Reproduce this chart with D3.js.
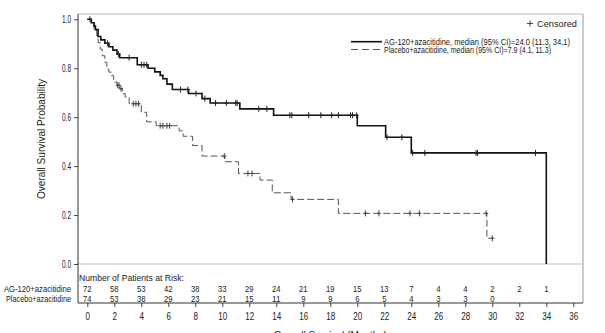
<!DOCTYPE html>
<html>
<head>
<meta charset="utf-8">
<script src="https://cdn.jsdelivr.net/npm/d3@7"></script>
<style>
  body { margin: 0; background: #fff; }
  svg text { font-family: "Liberation Sans", Arial, sans-serif; fill: #222; }
</style>
</head>
<body>
<div id="chart"></div>
<script>
// Kaplan-Meier steps: [month, survival after the drop]
const agSteps = [[0, 1.0], [0.3, 0.986], [0.5, 0.972], [0.6, 0.958], [0.8, 0.93], [1.0, 0.916],
  [1.3, 0.902], [1.6, 0.888], [1.9, 0.874], [2.2, 0.858], [2.4, 0.843], [3.7, 0.814], [4.5, 0.800],
  [5.0, 0.785], [5.4, 0.771], [5.6, 0.757], [5.9, 0.735], [6.3, 0.713], [7.5, 0.697], [8.5, 0.676],
  [9.1, 0.658], [11.3, 0.634], [13.8, 0.608], [20.0, 0.565], [22.1, 0.518], [24.0, 0.454], [34.0, 0]];
const agCensor = [0.2, 1.5, 2.3, 3.1, 4.0, 4.2, 4.4, 6.9, 7.45, 8.05, 8.7, 9.5, 10.3, 11.0, 11.1,
  12.7, 13.3, 15.0, 15.15, 16.4, 17.3, 18.1, 18.6, 19.5, 19.65, 19.95, 22.2, 23.3, 24.1, 25.0,
  28.8, 28.9, 33.2];

const pbSteps = [[0, 1.0], [0.3, 0.986], [0.5, 0.959], [0.7, 0.932], [0.8, 0.905], [0.95, 0.878],
  [1.1, 0.851], [1.3, 0.824], [1.45, 0.797], [1.6, 0.784], [1.8, 0.77], [1.95, 0.743], [2.2, 0.73],
  [2.4, 0.716], [2.6, 0.696], [2.8, 0.682], [3.1, 0.655], [4.0, 0.62], [4.4, 0.581], [5.1, 0.565],
  [6.8, 0.544], [7.1, 0.522], [7.8, 0.484], [8.5, 0.441], [10.2, 0.418], [11.2, 0.37], [12.8, 0.343],
  [13.7, 0.291], [15.1, 0.264], [18.6, 0.207], [29.6, 0.105]];
const pbEnd = 30.0;
const pbCensor = [2.25, 2.35, 2.5, 3.4, 3.6, 3.8, 5.4, 5.6, 5.9, 6.1, 10.15, 11.9, 12.2, 15.2,
  20.6, 21.6, 23.9, 24.6, 29.55, 30.0];

// Number at risk
const riskMonths = d3.range(0, 36, 2);
const agRisk = [72, 58, 53, 42, 38, 33, 29, 24, 21, 19, 15, 13, 7, 4, 4, 2, 2, 1];
const pbRisk = [74, 53, 38, 29, 23, 21, 15, 11, 9, 9, 6, 5, 4, 3, 3, 0];

const xTicks = d3.range(0, 37, 2);
const yTicks = [0, 0.2, 0.4, 0.6, 0.8, 1.0];

const width = 605, height = 333;
const frame = { left: 78, right: 583, top: 14, bottom: 303 };

const svg = d3.select("#chart").append("svg")
    .attr("width", width)
    .attr("height", height);

const x = d3.scaleLinear().domain([0, 36]).range([87.3, 573.3]);
const y = d3.scaleLinear().domain([0, 1]).range([264, 19.3]);

// narrow text: the original uses a condensed face, squeeze to the measured width
function label(px, py, str, w, size, anchor) {
    return svg.append("text")
        .attr("x", px).attr("y", py)
        .attr("text-anchor", anchor || "start")
        .attr("textLength", w)
        .attr("lengthAdjust", "spacingAndGlyphs")
        .style("font-size", (size || 9.5) + "px")
        .text(str);
}

// Frame: light top/right, dark left/bottom
svg.append("line").attr("x1", frame.left).attr("x2", frame.right)
    .attr("y1", frame.top).attr("y2", frame.top).attr("stroke", "#bbb");
svg.append("line").attr("x1", frame.right).attr("x2", frame.right)
    .attr("y1", frame.top).attr("y2", frame.bottom).attr("stroke", "#999");
svg.append("line").attr("x1", frame.left).attr("x2", frame.right)
    .attr("y1", y(0)).attr("y2", y(0)).attr("stroke", "#bbb");

// Y axis
const yAxis = svg.append("g")
    .attr("transform", `translate(${frame.left},0)`)
    .call(d3.axisLeft(y).tickValues(yTicks).tickSize(4).tickPadding(3).tickFormat(d3.format(".1f")));
yAxis.select(".domain").remove();
yAxis.selectAll(".tick line").attr("stroke", "#444");
yAxis.selectAll("text").style("font-size", "10px").attr("fill", "#222")
    .attr("textLength", 9).attr("lengthAdjust", "spacingAndGlyphs");
svg.append("line").attr("x1", frame.left).attr("x2", frame.left)
    .attr("y1", frame.top).attr("y2", frame.bottom).attr("stroke", "#333");

// X axis
const xAxis = svg.append("g")
    .attr("transform", `translate(0,${frame.bottom})`)
    .call(d3.axisBottom(x).tickValues(xTicks).tickSize(4).tickPadding(6));
xAxis.select(".domain").remove();
xAxis.selectAll(".tick line").attr("stroke", "#444");
xAxis.selectAll("text").style("font-size", "10px").attr("fill", "#222")
    .attr("textLength", d => d >= 10 ? 9 : 4.5).attr("lengthAdjust", "spacingAndGlyphs");
svg.append("line").attr("x1", frame.left).attr("x2", frame.right)
    .attr("y1", frame.bottom).attr("y2", frame.bottom).attr("stroke", "#333");

// Axis titles
label(0, 0, "Overall Survival Probability", 120, 11, "middle")
    .attr("transform", `translate(45,${(frame.top + y(0)) / 2}) rotate(-90)`);

label((x(0) + x(36)) / 2, 338.5, "Overall Survival (Months)", 113, 11, "middle");

// Survival curves
const stepLine = d3.line()
    .x(d => x(d[0]))
    .y(d => y(d[1]))
    .curve(d3.curveStepAfter);

svg.append("path")
    .attr("d", stepLine(pbSteps.concat([[pbEnd, pbSteps[pbSteps.length - 1][1]]])))
    .attr("fill", "none")
    .attr("stroke", "#555")
    .attr("stroke-width", 1)
    .attr("stroke-dasharray", "7,3");

svg.append("path")
    .attr("d", stepLine(agSteps))
    .attr("fill", "none")
    .attr("stroke", "#111")
    .attr("stroke-width", 1.6);

// Survival value at time t
function survAt(steps, t) {
    let s = steps[0][1];
    steps.forEach(d => { if (d[0] <= t) s = d[1]; });
    return s;
}

function drawCensor(times, steps, color) {
    svg.append("g").selectAll("path")
        .data(times)
        .join("path")
        .attr("d", t => {
            const cx = x(t), cy = y(survAt(steps, t));
            return `M${cx},${cy - 3}V${cy + 3}M${cx - 2},${cy}H${cx + 2}`;
        })
        .attr("stroke", color)
        .attr("stroke-width", 1);
}
drawCensor(pbCensor, pbSteps, "#444");
drawCensor(agCensor, agSteps, "#222");

// Legend
svg.append("path")
    .attr("d", "M530,20.5V26.5M527,23.5H533")
    .attr("stroke", "#444");
label(537, 27, "Censored", 40);

svg.append("line").attr("x1", 351).attr("x2", 382).attr("y1", 41.7).attr("y2", 41.7)
    .attr("stroke", "#111").attr("stroke-width", 1.6);
label(384, 45, "AG-120+azacitidine, median (95% CI)=24.0 (11.3, 34.1)", 186);

svg.append("line").attr("x1", 351).attr("x2", 382).attr("y1", 49.5).attr("y2", 49.5)
    .attr("stroke", "#555").attr("stroke-dasharray", "7,4");
label(384, 53, "Placebo+azacitidine, median (95% CI)=7.9 (4.1, 11.3)", 167);

// Number at risk table
label(79, 280.5, "Number of Patients at Risk:", 105);
label(71, 291.5, "AG-120+azacitidine", 67, 9.5, "end");
label(71, 301.5, "Placebo+azacitidine", 65, 9.5, "end");

svg.append("g").selectAll("text")
    .data(agRisk)
    .join("text")
    .attr("x", (d, i) => x(riskMonths[i]))
    .attr("y", 291.5)
    .attr("text-anchor", "middle")
    .style("font-size", "9.5px")
    .attr("textLength", d => d >= 10 ? 8.5 : 4.3)
    .attr("lengthAdjust", "spacingAndGlyphs")
    .text(d => d);

svg.append("g").selectAll("text")
    .data(pbRisk)
    .join("text")
    .attr("x", (d, i) => x(riskMonths[i]))
    .attr("y", 301.5)
    .attr("text-anchor", "middle")
    .style("font-size", "9.5px")
    .attr("textLength", d => d >= 10 ? 8.5 : 4.3)
    .attr("lengthAdjust", "spacingAndGlyphs")
    .text(d => d);
</script>
</body>
</html>
